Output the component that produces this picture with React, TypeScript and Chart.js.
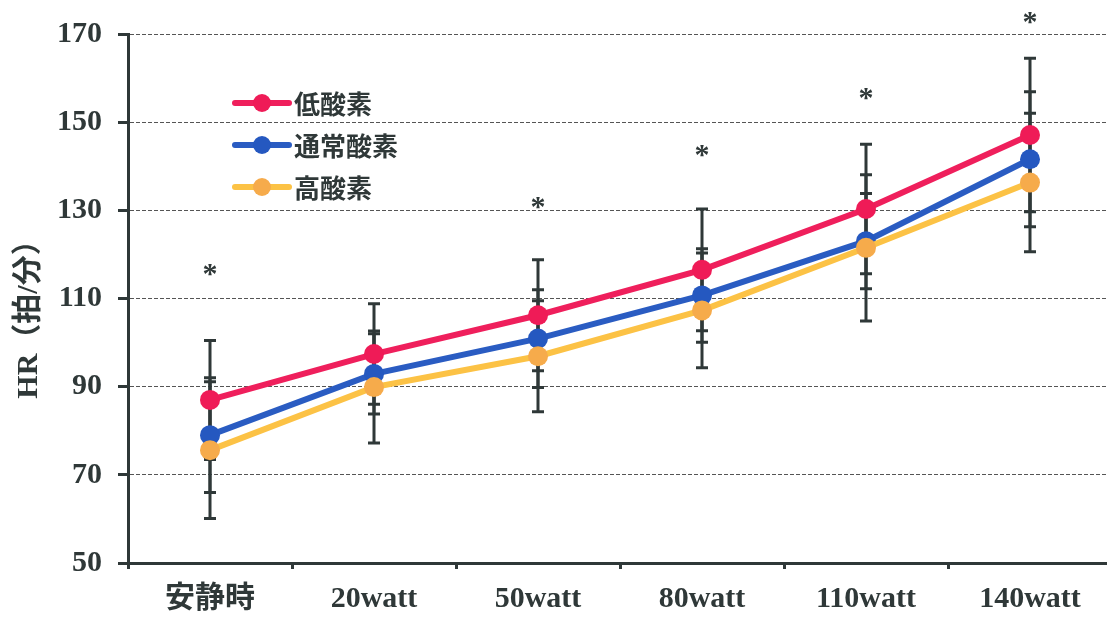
import React, { useEffect, useRef } from "react";
import { Chart, registerables } from "chart.js";

Chart.register(...registerables);

// Exercise stages on the x axis
const stages = ["安静時", "20watt", "50watt", "80watt", "110watt", "140watt"];

// Mean heart rate (beats/min) and standard deviation per oxygen condition
const lowO2Mean = [87, 97.4, 106.2, 116.5, 130.3, 147.1];
const lowO2Sd = [13.5, 11.4, 12.6, 13.8, 14.7, 17.4];

const normalO2Mean = [79, 92.9, 100.9, 110.7, 123, 141.6];
const normalO2Sd = [13, 9.1, 11.1, 10.6, 10.8, 15.3];

const highO2Mean = [75.6, 89.9, 96.9, 107.3, 121.5, 136.3];
const highO2Sd = [15.5, 12.7, 12.6, 13, 16.6, 15.7];

// Where the significance asterisks sit (beats/min), null = no mark
const significanceAt = [116.3, null, 131.5, 143.5, 156.4, 173.6];

// Y axis range and tick step
const yMin = 50;
const yMax = 170;
const yStep = 20;

const seriesLabels = ["低酸素", "通常酸素", "高酸素"];
const lineColors = ["#ef1f5c", "#2a5cc2", "#fcc245"];
const dotColors = ["#ef1b57", "#2558c0", "#f6ab4b"];

const INK = "#2f3838";
const SERIF = "'Liberation Serif', 'Noto Sans CJK JP', serif";
const GOTHIC = "'Noto Sans CJK JP', 'Noto Sans', sans-serif";

const sds = [lowO2Sd, normalO2Sd, highO2Sd];

const errorBarPlugin = {
  id: "errorBars",
  beforeDatasetsDraw(chart: any) {
    const { ctx } = chart;
    const y = chart.scales.y;
    ctx.save();
    ctx.strokeStyle = INK;
    ctx.lineWidth = 3;
    chart.data.datasets.forEach((ds: any, di: number) => {
      const meta = chart.getDatasetMeta(di);
      ds.data.forEach((v: number, i: number) => {
        const pt = meta.data[i];
        if (!pt) return;
        const sd = sds[di][i];
        const top = y.getPixelForValue(v + sd);
        const bot = y.getPixelForValue(v - sd);
        const x = pt.x;
        ctx.beginPath();
        ctx.moveTo(x, top);
        ctx.lineTo(x, bot);
        ctx.moveTo(x - 6, top);
        ctx.lineTo(x + 6, top);
        ctx.moveTo(x - 6, bot);
        ctx.lineTo(x + 6, bot);
        ctx.stroke();
      });
    });
    ctx.restore();
  },
};

const annotationPlugin = {
  id: "annotations",
  afterDatasetsDraw(chart: any) {
    const { ctx } = chart;
    const y = chart.scales.y;
    const x = chart.scales.x;
    ctx.save();
    // significance asterisks
    ctx.fillStyle = INK;
    ctx.font = `bold 30px ${SERIF}`;
    ctx.textAlign = "center";
    ctx.textBaseline = "middle";
    significanceAt.forEach((v, i) => {
      if (v == null) return;
      ctx.fillText("*", x.getPixelForValue(i), y.getPixelForValue(v) + 5);
    });

    // legend inside the plot area
    const rows = [103, 145, 187];
    ctx.font = `bold 26px ${GOTHIC}`;
    ctx.textAlign = "left";
    ctx.textBaseline = "middle";
    seriesLabels.forEach((label, i) => {
      const ry = rows[i];
      ctx.strokeStyle = lineColors[i];
      ctx.lineWidth = 6;
      ctx.lineCap = "round";
      ctx.beginPath();
      ctx.moveTo(235, ry);
      ctx.lineTo(289, ry);
      ctx.stroke();
      ctx.fillStyle = dotColors[i];
      ctx.beginPath();
      ctx.arc(262, ry, 9, 0, Math.PI * 2);
      ctx.fill();
      ctx.fillStyle = INK;
      ctx.fillText(label, 294, ry + 1);
    });

    // y axis title
    ctx.translate(29, 312);
    ctx.rotate(-Math.PI / 2);
    ctx.textAlign = "center";
    ctx.font = `bold 30px ${SERIF}`;
    ctx.fillText("HR（拍/分）", 0, 0);
    ctx.restore();
  },
};

export default function App() {
  const ref = useRef<HTMLCanvasElement>(null);

  useEffect(() => {
    if (!ref.current) return;
    const means = [lowO2Mean, normalO2Mean, highO2Mean];
    const chart = new Chart(ref.current, {
      type: "line",
      data: {
        labels: stages,
        datasets: seriesLabels.map((label, i) => ({
          label,
          data: means[i],
          borderColor: lineColors[i],
          backgroundColor: dotColors[i],
          pointBackgroundColor: dotColors[i],
          pointBorderWidth: 0,
          pointRadius: 10,
          borderWidth: 6,
          tension: 0,
          fill: false,
          order: 2 - i,
        })),
      },
      options: {
        responsive: false,
        animation: false,
        events: [],
        layout: { padding: { top: 33, right: 1, left: 0, bottom: 0 } },
        plugins: {
          legend: { display: false },
          tooltip: { enabled: false },
        },
        scales: {
          x: {
            offset: true,
            grid: {
              display: true,
              drawOnChartArea: false,
              drawTicks: true,
              offset: true,
              tickLength: 6,
              tickWidth: 3,
              tickColor: INK,
            },
            border: { display: true, color: INK, width: 3 },
            ticks: {
              color: INK,
              padding: 12,
              font: { family: SERIF, size: 30, weight: "bold" },
              maxRotation: 0,
            },
            afterFit(scale: any) {
              scale.height = 55;
            },
          },
          y: {
            min: yMin,
            max: yMax,
            grid: {
              color: "#555555",
              lineWidth: 1,
              tickLength: 10,
              tickWidth: 3,
              tickColor: INK,
            },
            border: { display: true, color: INK, width: 3, dash: [4, 2] },
            ticks: {
              stepSize: yStep,
              color: INK,
              padding: 16,
              font: { family: SERIF, size: 30, weight: "bold" },
            },
            afterFit(scale: any) {
              scale.width = 128;
            },
          },
        },
      },
      plugins: [errorBarPlugin, annotationPlugin],
    });
    return () => chart.destroy();
  }, []);

  return (
    <div
      style={{
        position: "fixed",
        left: 0,
        top: 0,
        width: 1107,
        height: 618,
        overflow: "hidden",
        background: "#ffffff",
      }}
    >
      <canvas ref={ref} width={1122} height={618} style={{ display: "block" }} />
    </div>
  );
}
